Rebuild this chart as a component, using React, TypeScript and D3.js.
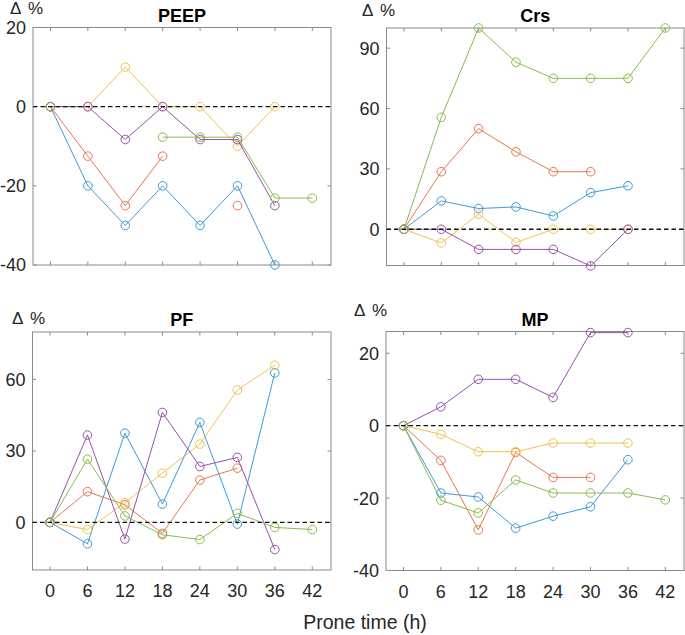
import * as d3 from 'd3';

// Prone time (h)
const times = [0, 6, 12, 18, 24, 30, 36, 42];
const xTicks = [0, 6, 12, 18, 24, 30, 36, 42];

// one row per patient: blue, orange, yellow, purple, green (null = not measured)
const peep = [
  [0, -20, -30, -20, -30, -20, -40, null],
  [0, -12.5, -25, -12.5, null, -25, null, null],
  [0, 0, 10, 0, 0, -10, 0, null],
  [0, 0, -8.3, 0, -8.3, -8.3, -25, null],
  [0, null, null, -7.7, -7.7, -7.7, -23.1, -23.1],
];
const crs = [
  [0, 14.1, 10.3, 11.1, 6.6, 18.2, 21.6, null],
  [0, 28.6, 50, 38.5, 28.6, 28.6, null, null],
  [0, -6.8, 7.5, -6.5, 0, 0, 0, null],
  [0, 0, -10, -10, -10, -18.2, 0, null],
  [0, 55.6, 100, 83, 75, 75, 75, 100],
];
const pf = [
  [0, -9, 37.5, 7.7, 42, -0.7, 62.8, null],
  [0, 12.9, 7.4, -4.6, 17.8, 22.8, null, null],
  [0, -3, 8.3, 20.7, 32.9, 55.6, 66, null],
  [0, 36.7, -7, 46.2, 23.5, 27.3, -11.4, null],
  [0, 26.6, 2.7, -5.2, -7.2, 3.8, -2.1, -3],
];
const mp = [
  [0, -18.6, -19.7, -28.3, -25, -22.4, -9.4, null],
  [0, -9.6, -28.8, -7.4, -14.3, -14.3, null, null],
  [0, -2.4, -7.2, -7.2, -4.8, -4.8, -4.8, null],
  [0, 5.2, 12.8, 12.8, 7.8, 25.7, 25.7, null],
  [0, -20.6, -24.1, -15, -18.6, -18.6, -18.6, -20.5],
];

const colors = ['#3d9ad8', '#e8764c', '#f1c150', '#9a4fad', '#88bc4c'];

const FONT = '"Liberation Sans", Arial, sans-serif';

interface PanelProps {
  title: string;
  series: (number | null)[][];
  yDomain: [number, number];
  yTicks: number[];
  left: number;
  right: number;
  top: number;
  bottom: number;
  showXLabels: boolean;
  deltaX: number;
  deltaY: number;
}

const Panel = ({ title, series, yDomain, yTicks, left, right, top, bottom, showXLabels, deltaX, deltaY }: PanelProps) => {
  const x = d3.scaleLinear().domain([-2.8, 45]).range([left, right]);
  const y = d3.scaleLinear().domain(yDomain).range([bottom, top]);
  const line = d3.line<number | null>()
    .defined(d => d !== null)
    .x((_, i) => x(times[i]))
    .y(d => y(d as number));
  const tl = 3.5;

  return (
    <g>
      <rect x={left} y={top} width={right - left} height={bottom - top} fill="white" stroke="#8a8a8a" strokeWidth={1} />
      {yTicks.map(t => (
        <g key={'y' + t}>
          <line x1={left} x2={left + tl} y1={y(t)} y2={y(t)} stroke="#8a8a8a" />
          <line x1={right} x2={right - tl} y1={y(t)} y2={y(t)} stroke="#8a8a8a" />
          <text x={left - 7} y={y(t)} dy="0.36em" textAnchor="end" fontSize={18} fill="#262626">{t}</text>
        </g>
      ))}
      {xTicks.map(t => (
        <g key={'x' + t}>
          <line x1={x(t)} x2={x(t)} y1={bottom} y2={bottom - tl} stroke="#8a8a8a" />
          <line x1={x(t)} x2={x(t)} y1={top} y2={top + tl} stroke="#8a8a8a" />
          {showXLabels && (
            <text x={x(t)} y={bottom + 27} textAnchor="middle" fontSize={18} fill="#262626">{t}</text>
          )}
        </g>
      ))}
      {series.map((s, k) => (
        <g key={k}>
          <path d={line(s) || ''} fill="none" stroke={colors[k]} strokeWidth={1} />
          {s.map((v, i) => v === null ? null : (
            <circle key={i} cx={x(times[i])} cy={y(v)} r={4.3} fill="none" stroke={colors[k]} strokeWidth={1} />
          ))}
        </g>
      ))}
      <line x1={left} x2={right} y1={y(0)} y2={y(0)} stroke="#111" strokeWidth={1.3} strokeDasharray="4.5,3" />
      <text x={(left + right) / 2} y={top - 6} textAnchor="middle" fontSize={18} fontWeight="bold" fill="#000">{title}</text>
      <text y={deltaY} fontSize={17} fill="#262626">
        <tspan x={deltaX}>Δ</tspan>
        <tspan x={deltaX + 18}>%</tspan>
      </text>
    </g>
  );
};

export default function App() {
  return (
    <svg width={685} height={635} style={{ position: 'absolute', left: 0, top: 0, background: 'white', fontFamily: FONT }}>
      <Panel title="PEEP" series={peep} yDomain={[-40, 20]} yTicks={[-40, -20, 0, 20]}
        left={33} right={331} top={27.5} bottom={265} showXLabels={false} deltaX={10} deltaY={14} />
      <Panel title="Crs" series={crs} yDomain={[-18, 100]} yTicks={[0, 30, 60, 90]}
        left={386.5} right={684} top={28} bottom={265.5} showXLabels={false} deltaX={362} deltaY={16} />
      <Panel title="PF" series={pf} yDomain={[-20, 80]} yTicks={[0, 30, 60]}
        left={32.5} right={331} top={332} bottom={570} showXLabels={true} deltaX={12} deltaY={324} />
      <Panel title="MP" series={mp} yDomain={[-40, 26]} yTicks={[-40, -20, 0, 20]}
        left={386} right={684} top={331.5} bottom={570.5} showXLabels={true} deltaX={354} deltaY={316} />
      <text x={365} y={629} textAnchor="middle" fontSize={19.5} fill="#262626">Prone time (h)</text>
    </svg>
  );
}
